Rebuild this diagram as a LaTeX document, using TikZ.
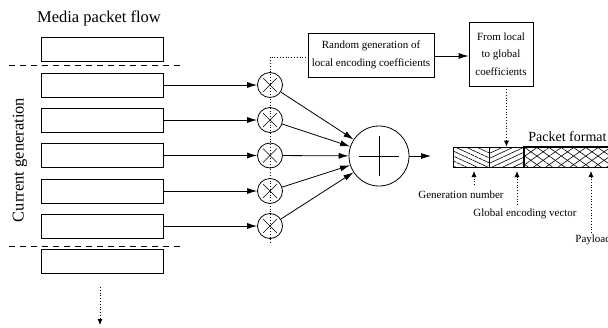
\documentclass[tikz,border=0pt]{standalone}
\usepackage{fontspec}
\setmainfont{Liberation Serif}
\usetikzlibrary{arrows.meta,patterns.meta}

\begin{document}
\begin{tikzpicture}
[every node/.style={inner sep=0pt}, line width=0.8pt,
 pkt/.style={draw, minimum width=122pt, minimum height=24pt},
 mult/.style={circle, draw, minimum size=25pt, path picture={\draw[line width=0.6pt] (path picture bounding box.center) ++(-7pt,-7pt) -- ++(14pt,14pt) ++(0,-14pt) -- ++(-14pt,14pt);}},
 sumnode/.style={circle, draw, minimum size=60pt},
 arr/.style={-{Latex[length=10pt,width=6pt]}},
 dotarr/.style={dotted, -{Latex[length=6pt,width=5pt]}},
 divider/.style={dash pattern=on 6pt off 5pt},
 small/.style={font=\fontsize{11}{17.5}\selectfont, align=center},
 big/.style={font=\fontsize{16.5}{19}\selectfont},
 seg/.style={draw, minimum height=20pt}]
\useasboundingbox (0pt,0pt) rectangle (608pt,-327pt);
\node (title) [big, anchor=base] at (99pt, -22pt) {Media packet flow};
\node (curgen) [big, rotate=90] at (20pt, -160pt) {Current generation};
% packets of the flow
\node (b0) [pkt] at (102pt, -49pt) {};
\node (b1) [pkt] at (102pt, -85pt) {};
\node (b2) [pkt] at (102pt, -120pt) {};
\node (b3) [pkt] at (102pt, -155.5pt) {};
\node (b4) [pkt] at (102pt, -191pt) {};
\node (b5) [pkt] at (102pt, -226pt) {};
\node (b6) [pkt] at (102pt, -261.5pt) {};
\draw [divider] (9pt, -65pt) -- (183pt, -65pt);
\draw [divider] (9pt, -246pt) -- (183pt, -246pt);
\coordinate (flowtop) at (100pt, -287pt);
\coordinate (flowbot) at (100pt, -325pt);
\draw [dotarr] (flowtop) to (flowbot);
% coding
\coordinate (dtop) at (270pt, -57pt);
\coordinate (dbot) at (270pt, -243pt);
\node (rand) [draw, small, minimum width=126pt, minimum height=44pt] at (371pt, -55pt) {Random generation of\\local encoding coefficients};
\node (glob) [draw, small, minimum width=64pt, minimum height=64pt] at (501pt, -54pt) {From local\\to global\\coefficients};
\draw [dotted] (dbot) -- (dtop) -- (dtop -| rand.west);
\node (m1) [mult] at (270pt, -85pt) {};
\node (m2) [mult] at (270pt, -120pt) {};
\node (m3) [mult] at (270pt, -155.5pt) {};
\node (m4) [mult] at (270pt, -191pt) {};
\node (m5) [mult] at (270pt, -226pt) {};
\node (sum) [sumnode] at (379pt, -156pt) {};
\draw (sum.center) ++(-20pt,0) -- ++(40pt,0) (sum.center) ++(0,-20pt) -- ++(0,40pt);
\foreach \i in {1,...,5} {
  \draw [arr] (b\i) to (m\i);
  \draw [arr] (m\i) to (sum);
}
\coordinate (sumout) at (431pt, -156pt);
\draw [arr] (sum) to (sumout);
\draw [arr] (rand.east |- 0,-56pt) to (glob.west |- 0,-56pt);
% packet format
\node (seg1) [seg, minimum width=36pt, pattern={Lines[angle=-25,distance=4.5pt,line width=0.6pt]}] at (471pt, -157pt) {};
\node (seg2) [seg, minimum width=35pt, pattern={Lines[angle=25,distance=4.5pt,line width=0.6pt]}] at (506.5pt, -157pt) {};
\node (seg3) [seg, minimum width=134pt, pattern={Lines[angle=35,distance=7pt,line width=0.6pt]}] at (591pt, -157pt) {};
\path [pattern={Lines[angle=-35,distance=7pt,line width=0.6pt]}] (seg3.south west) rectangle (seg3.north east);
\draw (seg3.south west) rectangle (seg3.north east);
\node (pfmt) [font=\fontsize{14}{16}\selectfont, anchor=base west] at (528pt, -141pt) {Packet format};
\draw [dotarr] (glob.south -| seg2.north) to (seg2.north);
\node (genlbl) [small, anchor=west] at (418pt, -195pt) {Generation number};
\node (gevlbl) [small, anchor=west] at (473pt, -214pt) {Global encoding vector};
\node (paylbl) [small, anchor=west] at (575pt, -240pt) {Payload};
\coordinate (gentip) at (474pt, -171pt);
\coordinate (gevtip) at (517pt, -171pt);
\coordinate (paytip) at (591pt, -171pt);
\draw [dotarr] (gentip |- 0,-185pt) to (gentip);
\draw [dotarr] (gevtip |- 0,-205pt) to (gevtip);
\draw [dotarr] (paytip |- 0,-233pt) to (paytip);
\end{tikzpicture}
\end{document}
